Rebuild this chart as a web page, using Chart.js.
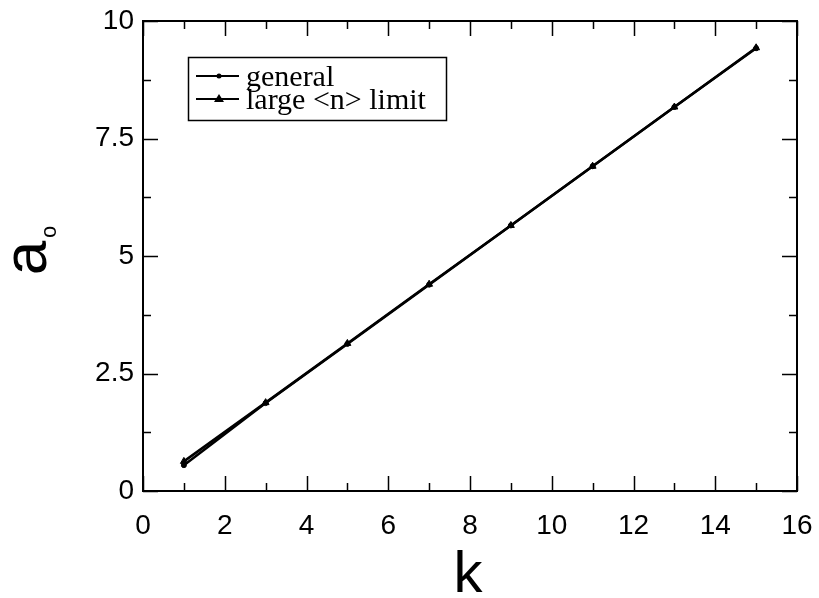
<!DOCTYPE html>
<html>
<head>
<meta charset="utf-8">
<script src="https://cdn.jsdelivr.net/npm/chart.js@4/dist/chart.umd.min.js"></script>
<style>
  body { margin: 0; background: #fff; }
  canvas { display: block; }
</style>
</head>
<body>
<canvas id="chart" width="819" height="598"></canvas>
<script>
var kValues = [1, 3, 5, 7, 9, 11, 13, 15];
var generalValues = [0.55, 1.87, 3.13, 4.39, 5.65, 6.91, 8.17, 9.42];
var largeLimitValues = [0.63, 1.88, 3.14, 4.40, 5.65, 6.91, 8.17, 9.43];
var seriesNames = ['general', 'large <n> limit'];
var xTicks = [0, 2, 4, 6, 8, 10, 12, 14, 16];
var yTicks = [0, 2.5, 5, 7.5, 10];

function toPoints(ys) {
  return kValues.map(function (k, i) { return { x: k, y: ys[i] }; });
}

// frame, inward ticks on all four sides, legend box and axis titles
var decorations = {
  id: 'decorations',
  afterDraw: function (chart) {
    var ctx = chart.ctx;
    var area = chart.chartArea;
    var xs = chart.scales.x;
    var ys = chart.scales.y;
    ctx.save();
    ctx.strokeStyle = '#000';
    ctx.lineWidth = 2;
    ctx.strokeRect(area.left, area.top, area.right - area.left, area.bottom - area.top);

    ctx.lineWidth = 1.5;
    ctx.beginPath();
    for (var v = 0; v <= 16; v += 1) {
      var px = Math.round(xs.getPixelForValue(v)) + 0.5;
      var len = v % 2 === 0 ? 15 : 8;
      ctx.moveTo(px, area.bottom); ctx.lineTo(px, area.bottom - len);
      ctx.moveTo(px, area.top); ctx.lineTo(px, area.top + len);
    }
    for (var w = 0; w <= 10; w += 1.25) {
      var py = Math.round(ys.getPixelForValue(w)) + 0.5;
      var l = (w % 2.5 === 0) ? 15 : 8;
      ctx.moveTo(area.left, py); ctx.lineTo(area.left + l, py);
      ctx.moveTo(area.right, py); ctx.lineTo(area.right - l, py);
    }
    ctx.stroke();

    // legend
    ctx.lineWidth = 1.5;
    ctx.strokeRect(188.5, 57.5, 258, 63);
    ctx.font = '30px "Liberation Serif", "Times New Roman", serif';
    ctx.fillStyle = '#000';
    ctx.textBaseline = 'middle';
    var rows = [76, 99];
    rows.forEach(function (y, i) {
      ctx.lineWidth = 2;
      ctx.beginPath();
      ctx.moveTo(196, y); ctx.lineTo(239, y);
      ctx.stroke();
      ctx.beginPath();
      if (i === 0) {
        ctx.arc(219, y, 2.5, 0, Math.PI * 2);
      } else {
        ctx.moveTo(219, y - 5); ctx.lineTo(224, y + 3); ctx.lineTo(214, y + 3); ctx.closePath();
      }
      ctx.fill();
      ctx.fillText(seriesNames[i], 246, y + 2);
    });

    // axis titles
    ctx.font = '58px "Liberation Sans", Arial, sans-serif';
    ctx.textAlign = 'center';
    ctx.textBaseline = 'alphabetic';
    ctx.fillText('k', 468, 592);

    ctx.translate(46, 258);
    ctx.rotate(-Math.PI / 2);
    ctx.font = '62px "Liberation Sans", Arial, sans-serif';
    ctx.textAlign = 'center';
    ctx.fillText('a', 0, 0);
    ctx.font = '22px "Liberation Sans", Arial, sans-serif';
    ctx.textAlign = 'left';
    ctx.fillText('o', 20, 10);
    ctx.restore();
  }
};

new Chart(document.getElementById('chart'), {
  type: 'line',
  data: {
    datasets: [{
      label: seriesNames[0],
      data: toPoints(generalValues),
      borderColor: '#000',
      backgroundColor: '#000',
      borderWidth: 2.5,
      pointStyle: 'circle',
      pointRadius: 2.5,
      pointBorderWidth: 1
    }, {
      label: seriesNames[1],
      data: toPoints(largeLimitValues),
      borderColor: '#000',
      backgroundColor: '#000',
      borderWidth: 2.5,
      pointStyle: 'triangle',
      pointRadius: 4,
      pointBorderWidth: 1
    }]
  },
  options: {
    responsive: false,
    animation: false,
    layout: { padding: { top: 21, right: 22, left: 0, bottom: 0 } },
    plugins: { legend: { display: false }, tooltip: { enabled: false } },
    scales: {
      x: {
        type: 'linear',
        min: 0,
        max: 16,
        afterBuildTicks: function (axis) {
          axis.ticks = xTicks.map(function (v) { return { value: v }; });
        },
        afterFit: function (axis) {
          axis.height = 107;
          axis.paddingLeft = 0;
          axis.paddingRight = 0;
        },
        grid: { display: false, drawTicks: false },
        border: { display: false },
        ticks: {
          color: '#000',
          padding: 18,
          maxRotation: 0,
          font: { family: '"Liberation Sans", Arial, sans-serif', size: 28 }
        }
      },
      y: {
        type: 'linear',
        min: 0,
        max: 10,
        afterBuildTicks: function (axis) {
          axis.ticks = yTicks.map(function (v) { return { value: v }; });
        },
        afterFit: function (axis) {
          axis.width = 143;
          axis.paddingTop = 0;
          axis.paddingBottom = 0;
        },
        grid: { display: false, drawTicks: false },
        border: { display: false },
        ticks: {
          color: '#000',
          padding: 9,
          font: { family: '"Liberation Sans", Arial, sans-serif', size: 28 }
        }
      }
    }
  },
  plugins: [decorations]
});
</script>
</body>
</html>
